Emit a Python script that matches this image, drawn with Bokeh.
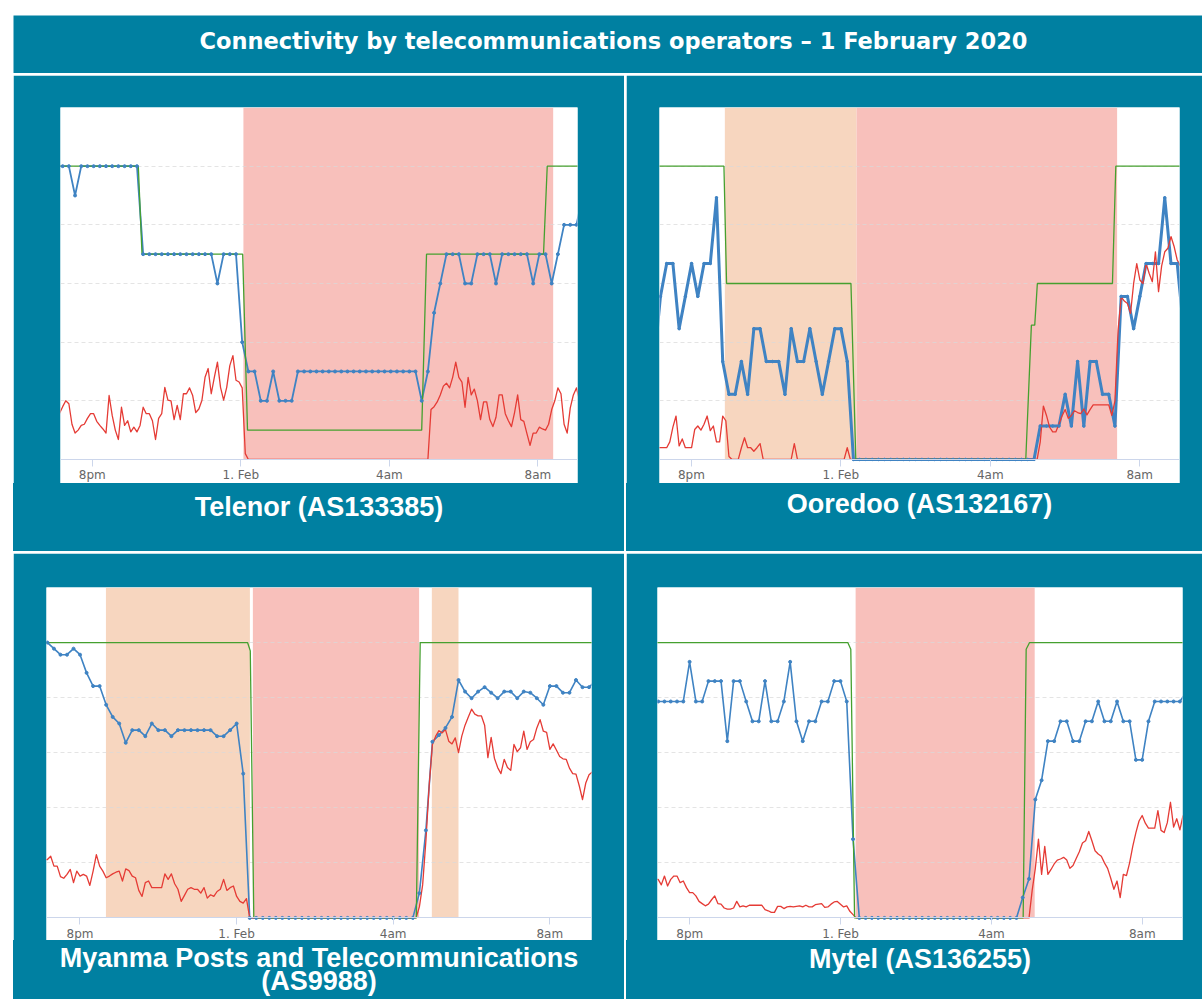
from bokeh.plotting import figure
from bokeh.layouts import column, row
from bokeh.models import Range1d, FixedTicker, BoxAnnotation, Label
from bokeh.embed import file_html
from bokeh.resources import INLINE

TITLE = "Connectivity by telecommunications operators \u2013 1 February 2020"

# x axis: hours relative to midnight, 1 February 2020
X_START, X_END = -4.855, 9.065
Y_START, Y_END = -0.41, 6.0
TICK_HOURS = [-4, 0, 4, 8]
TICK_LABELS = ["8pm", "1. Feb", "4am", "8am"]
GRID_LEVELS = [1, 2, 3, 4, 5]

# ---------------- Telenor ----------------
TELENOR_CAPTION = ["Telenor (AS133385)"]
TELENOR_BLUE_T0 = -4.963          # active probing, one value every 10 min
TELENOR_BLUE = [
    5.0, 5.0, 5.0, 4.5, 5.0, 5.0, 5.0, 5.0, 5.0, 5.0,
    5.0, 5.0, 5.0, 5.0, 3.5, 3.5, 3.5, 3.5, 3.5, 3.5,
    3.5, 3.5, 3.5, 3.5, 3.5, 3.5, 3.0, 3.5, 3.5, 3.5,
    2.0, 1.5, 1.5, 1.0, 1.0, 1.5, 1.0, 1.0, 1.0, 1.5,
    1.5, 1.5, 1.5, 1.5, 1.5, 1.5, 1.5, 1.5, 1.5, 1.5,
    1.5, 1.5, 1.5, 1.5, 1.5, 1.5, 1.5, 1.5, 1.5, 1.0,
    1.5, 2.5, 3.0, 3.5, 3.5, 3.5, 3.0, 3.0, 3.5, 3.5,
    3.5, 3.0, 3.5, 3.5, 3.5, 3.5, 3.5, 3.0, 3.5, 3.5,
    3.0, 3.5, 4.0, 4.0, 4.0, 4.5]
TELENOR_RED_T0 = -4.963           # darknet, one value every 5 min
TELENOR_RED = [
    0.75, 0.79, 0.9, 1.0, 0.95, 0.6, 0.45, 0.5, 0.58, 0.6,
    0.7, 0.78, 0.78, 0.65, 0.58, 0.52, 0.45, 1.09, 0.75, 0.5,
    0.34, 0.89, 0.58, 0.66, 0.47, 0.55, 0.47, 0.58, 0.89, 0.78,
    0.78, 0.66, 0.34, 0.7, 0.78, 1.23, 1.01, 1.0, 0.68, 0.92,
    0.68, 1.12, 1.12, 1.22, 1.09, 0.8, 0.86, 1.01, 1.4, 1.55,
    1.12, 1.4, 1.66, 1.23, 1.01, 1.23, 1.6, 1.77, 1.35, 1.32,
    1.22, 0.1, 0, 0, 0, 0, 0, 0, 0, 0,
    0, 0, 0, 0, 0, 0, 0, 0, 0, 0,
    0, 0, 0, 0, 0, 0, 0, 0, 0, 0,
    0, 0, 0, 0, 0, 0, 0, 0, 0, 0,
    0, 0, 0, 0, 0, 0, 0, 0, 0, 0,
    0, 0, 0, 0, 0, 0, 0, 0, 0, 0,
    0, 0.85, 0.9, 0.98, 1.1, 1.25, 1.3, 1.22, 1.4, 1.66,
    1.4, 1.32, 0.89, 1.4, 1.1, 1.2, 1.0, 0.68, 0.98, 0.98,
    0.68, 0.56, 0.72, 1.1, 1.1, 0.78, 0.66, 0.56, 0.8, 1.1,
    0.68, 0.65, 0.44, 0.24, 0.45, 0.45, 0.55, 0.52, 0.5, 0.6,
    0.85, 1.0, 1.22, 1.12, 0.6, 0.45, 0.88, 1.1, 1.22, 1.0]
TELENOR_GREEN_T = [-4.96, -2.76, -2.66, 0.05, 0.18, 4.87, 5.0, 8.15, 8.25, 9.2]
TELENOR_GREEN_V = [5.0, 5.0, 3.5, 3.5, 0.5, 0.5, 3.5, 3.5, 5.0, 5.0]
TELENOR_BAND_FROM = [0.07]
TELENOR_BAND_TO = [8.41]
TELENOR_BAND_KIND = ["outage"]

# ---------------- Ooredoo ----------------
OOREDOO_CAPTION = ["Ooredoo (AS132167)"]
OOREDOO_BLUE_T0 = -4.996
OOREDOO_BLUE = [
    1.67, 2.78, 3.34, 3.34, 2.23, 2.78, 3.34, 2.78, 3.34, 3.34,
    4.46, 1.67, 1.11, 1.11, 1.67, 1.11, 2.23, 2.23, 1.67, 1.67,
    1.67, 1.11, 2.23, 1.67, 1.67, 2.23, 1.67, 1.11, 1.67, 2.23,
    2.23, 1.67, 0, 0, 0, 0, 0, 0, 0, 0,
    0, 0, 0, 0, 0, 0, 0, 0, 0, 0,
    0, 0, 0, 0, 0, 0, 0, 0, 0, 0,
    0, 0, 0.57, 0.57, 0.57, 0.57, 1.11, 0.57, 1.67, 0.57,
    1.67, 1.67, 1.11, 1.11, 0.57, 2.78, 2.78, 2.23, 2.78, 3.34,
    3.34, 3.34, 4.46, 3.34, 3.34, 2.23]
OOREDOO_RED_T0 = -4.996
OOREDOO_RED = [
    0.2, 0.2, 0.2, 0.2, 0.2, 0.3, 0.55, 0.74, 0.23, 0.35,
    0.2, 0.2, 0.2, 0.51, 0.57, 0.5, 0.6, 0.74, 0.49, 0.57,
    0.3, 0.3, 0.74, 0.66, 0.05, 0, 0, 0, 0.2, 0.37,
    0.2, 0.2, 0.14, 0.2, 0.27, 0, 0, 0, 0, 0,
    0, 0, 0, 0, 0, 0.27, 0, 0, 0, 0,
    0, 0, 0, 0, 0, 0, 0, 0, 0, 0,
    0, 0, 0.2, 0, 0, 0, 0, 0, 0, 0,
    0, 0, 0, 0, 0, 0, 0, 0, 0, 0,
    0, 0, 0, 0, 0, 0, 0, 0, 0, 0,
    0, 0, 0, 0, 0, 0, 0, 0, 0, 0,
    0, 0, 0, 0, 0, 0, 0, 0, 0, 0,
    0, 0, 0, 0, 0, 0, 0, 0, 0, 0,
    0, 0, 0, 0, 0.3, 0.91, 0.75, 0.55, 0.47, 0.47,
    0.6, 0.74, 0.85, 0.7, 0.75, 0.83, 0.8, 0.78, 0.86, 0.76,
    0.85, 0.93, 0.93, 0.93, 0.93, 0.93, 0.93, 0.75, 1.0, 2.2,
    2.77, 2.7, 2.66, 2.49, 3.0, 3.34, 3.06, 3.0, 3.34, 3.17,
    3.03, 3.54, 2.86, 3.3, 3.54, 3.6, 3.8, 3.63, 3.4, 3.3]
OOREDOO_GREEN_T = [-5.0, -3.13, -3.06, 0.27, 0.40, 4.95, 5.10, 5.19, 5.26, 7.27, 7.36, 9.2]
OOREDOO_GREEN_V = [5.0, 5.0, 3.0, 3.0, 0.0, 0.0, 2.29, 2.29, 3.0, 3.0, 5.0, 5.0]
OOREDOO_BAND_FROM = [-3.106, 0.42]
OOREDOO_BAND_TO = [0.42, 7.395]
OOREDOO_BAND_KIND = ["partial", "outage"]

# ---------------- Myanma Posts and Telecommunications ----------------
MPT_CAPTION = ["Myanma Posts and Telecommunications", "(AS9988)"]
MPT_BLUE_T0 = -4.998
MPT_BLUE = [
    5.0, 5.0, 4.89, 4.78, 4.78, 4.89, 4.78, 4.45, 4.21, 4.21,
    3.87, 3.65, 3.53, 3.18, 3.41, 3.41, 3.3, 3.53, 3.41, 3.41,
    3.3, 3.41, 3.41, 3.41, 3.41, 3.41, 3.41, 3.3, 3.3, 3.41,
    3.53, 2.62, 0, 0, 0, 0, 0, 0, 0, 0,
    0, 0, 0, 0, 0, 0, 0, 0, 0, 0,
    0, 0, 0, 0, 0, 0, 0, 0, 0.45, 1.59,
    3.2, 3.32, 3.45, 3.65, 4.32, 4.11, 3.99, 4.11, 4.19, 4.09,
    3.99, 4.11, 4.11, 3.99, 4.11, 4.09, 3.99, 3.87, 4.21, 4.21,
    4.09, 4.09, 4.32, 4.19, 4.19, 4.3]
MPT_RED_T0 = -4.998
MPT_RED = [
    1.06, 1.06, 1.06, 1.12, 0.94, 0.94, 0.75, 0.72, 0.79, 0.88,
    0.64, 0.85, 0.76, 0.79, 0.76, 0.59, 0.85, 1.15, 0.94, 0.85,
    0.73, 0.76, 0.8, 0.83, 0.85, 0.67, 0.89, 0.86, 0.76, 0.73,
    0.5, 0.39, 0.64, 0.67, 0.55, 0.55, 0.55, 0.55, 0.8, 0.7,
    0.8, 0.62, 0.52, 0.3, 0.41, 0.52, 0.55, 0.52, 0.52, 0.45,
    0.55, 0.36, 0.42, 0.39, 0.48, 0.52, 0.7, 0.5, 0.55, 0.58,
    0.39, 0.3, 0.27, 0.35, 0, 0, 0, 0, 0, 0,
    0, 0, 0, 0, 0, 0, 0, 0, 0, 0,
    0, 0, 0, 0, 0, 0, 0, 0, 0, 0,
    0, 0, 0, 0, 0, 0, 0, 0, 0, 0,
    0, 0, 0, 0, 0, 0, 0, 0, 0, 0,
    0, 0, 0, 0, 0, 0, 0.2, 0.6, 1.4, 2.4,
    3.15, 3.3, 3.4, 3.36, 3.42, 3.21, 3.16, 3.27, 3.0, 3.3,
    3.5, 3.65, 3.79, 3.7, 3.67, 3.67, 3.5, 2.91, 3.28, 2.9,
    2.73, 2.62, 2.88, 2.73, 2.68, 3.15, 3.02, 3.09, 3.39, 3.06,
    3.2, 3.24, 3.45, 3.6, 3.39, 3.37, 3.06, 3.16, 3.05, 2.93,
    2.89, 2.88, 2.72, 2.62, 2.61, 2.4, 2.15, 2.45, 2.6, 2.65]
MPT_GREEN_T = [-5.0, 0.28, 0.35, 0.44, 4.59, 4.69, 9.2]
MPT_GREEN_V = [5.0, 5.0, 4.85, 0.0, 0.0, 5.0, 5.0]
MPT_BAND_FROM = [-3.337, 0.416, 4.987]
MPT_BAND_TO = [0.34, 4.662, 5.668]
MPT_BAND_KIND = ["partial", "outage", "partial"]

# ---------------- Mytel ----------------
MYTEL_CAPTION = ["Mytel (AS136255)"]
MYTEL_BLUE_T0 = -5.004
MYTEL_BLUE = [
    3.93, 3.93, 3.93, 3.93, 3.93, 3.93, 4.65, 3.93, 3.93, 4.3,
    4.3, 4.3, 3.21, 4.3, 4.3, 3.93, 3.57, 3.57, 4.3, 3.57,
    3.57, 3.93, 4.65, 3.57, 3.21, 3.57, 3.57, 3.93, 3.93, 4.3,
    4.3, 3.93, 1.43, 0, 0, 0, 0, 0, 0, 0,
    0, 0, 0, 0, 0, 0, 0, 0, 0, 0,
    0, 0, 0, 0, 0, 0, 0, 0, 0, 0.37,
    0.71, 2.15, 2.5, 3.21, 3.21, 3.57, 3.57, 3.21, 3.21, 3.57,
    3.57, 3.93, 3.57, 3.57, 3.93, 3.57, 3.57, 2.87, 2.87, 3.57,
    3.93, 3.93, 3.93, 3.93, 3.93, 4.1]
MYTEL_RED_T0 = -5.004
MYTEL_RED = [
    0.6, 0.7, 0.7, 0.6, 0.76, 0.58, 0.7, 0.76, 0.76, 0.64,
    0.67, 0.55, 0.46, 0.46, 0.4, 0.3, 0.26, 0.22, 0.25, 0.33,
    0.4, 0.26, 0.25, 0.18, 0.16, 0.16, 0.18, 0.3, 0.2, 0.22,
    0.2, 0.23, 0.23, 0.23, 0.23, 0.23, 0.15, 0.13, 0.1, 0.1,
    0.21, 0.21, 0.17, 0.2, 0.21, 0.2, 0.21, 0.22, 0.2, 0.23,
    0.2, 0.2, 0.24, 0.25, 0.26, 0.19, 0.2, 0.25, 0.29, 0.3,
    0.25, 0.2, 0.22, 0.12, 0.06, 0, 0, 0, 0, 0,
    0, 0, 0, 0, 0, 0, 0, 0, 0, 0,
    0, 0, 0, 0, 0, 0, 0, 0, 0, 0,
    0, 0, 0, 0, 0, 0, 0, 0, 0, 0,
    0, 0, 0, 0, 0, 0, 0, 0, 0, 0,
    0, 0, 0, 0, 0, 0, 0, 0, 0, 0,
    0, 0.5, 0.9, 1.43, 0.79, 1.3, 0.79, 0.88, 0.98, 1.05,
    1.07, 1.1, 1.05, 0.9, 0.95, 1.08, 1.2, 1.36, 1.4, 1.57,
    1.4, 1.22, 1.16, 1.12, 1.0, 0.9, 0.72, 0.52, 0.67, 0.37,
    0.79, 0.77, 1.0, 1.3, 1.55, 1.76, 1.86, 1.72, 1.63, 1.63,
    1.63, 1.95, 1.59, 1.55, 1.73, 2.1, 1.65, 1.8, 1.6, 1.86]
MYTEL_GREEN_T = [-5.0, 0.19, 0.27, 0.37, 4.84, 4.92, 5.01, 9.2]
MYTEL_GREEN_V = [5.0, 5.0, 4.88, 0.0, 0.0, 4.88, 5.0, 5.0]
MYTEL_BAND_FROM = [0.398]
MYTEL_BAND_TO = [5.146]
MYTEL_BAND_KIND = ["outage"]

# ---------------- styling ----------------
TEAL = "#0080a1"
PINK = "#f8c0bb"
PEACH = "#f7d6bf"
BLUE = "#3f83c3"
RED = "#e53b35"
GREEN = "#45a02f"
AXIS_C = "#ccd6eb"


def chart(w, frame_h, borders, blue_t0, blue, red_t0, red,
          green_t, green_v, band_from, band_to, band_kind, blue_width, dot):
    left, right, top = borders
    p = figure(width=w, height=top + frame_h,
               x_range=Range1d(X_START, X_END), y_range=Range1d(Y_START, Y_END),
               output_backend="svg", toolbar_location=None,
               min_border_left=left, min_border_right=right,
               min_border_top=top, min_border_bottom=0,
               background_fill_color="white", border_fill_color=TEAL,
               outline_line_color=None)
    ax = p.xaxis[0]
    ax.fixed_location = 0
    ax.ticker = FixedTicker(ticks=TICK_HOURS)
    ax.major_label_overrides = dict(zip(TICK_HOURS, TICK_LABELS))
    ax.axis_line_color = AXIS_C
    ax.major_tick_line_color = AXIS_C
    ax.major_tick_in = 0
    ax.major_tick_out = 7
    ax.minor_tick_line_color = None
    ax.major_label_text_color = "#666666"
    ax.major_label_text_font = "DejaVu Sans"
    ax.major_label_text_font_size = "12px"
    ax.major_label_standoff = 2
    p.yaxis.visible = False
    p.xgrid.visible = False
    p.ygrid.ticker = FixedTicker(ticks=GRID_LEVELS)
    p.ygrid.grid_line_color = "#d9d9d9"
    p.ygrid.grid_line_alpha = 0.7
    p.ygrid.grid_line_dash = "4 3"

    for a, b, k in zip(band_from, band_to, band_kind):
        p.add_layout(BoxAnnotation(left=a, right=b, bottom=0,
                                   fill_color=PINK if k == "outage" else PEACH,
                                   fill_alpha=1.0, line_color=None, level="image"))

    bx = [blue_t0 + i / 6 for i in range(len(blue))]
    rx = [red_t0 + j / 12 for j in range(len(red))]
    p.line(bx, blue, line_color=BLUE, line_width=blue_width, line_join="round")
    p.line(rx, red, line_color=RED, line_width=1.3, line_join="round")
    p.line(green_t, green_v, line_color=GREEN, line_width=1.3)
    p.scatter(bx, blue, size=dot, color=BLUE)
    return p


def caption(lines, baselines, w, h, left, right):
    # caption strip under a chart; its frame lines up with the chart frame
    c = figure(width=w, height=h, x_range=Range1d(X_START, X_END), y_range=Range1d(0, h),
               output_backend="svg", toolbar_location=None,
               min_border_left=left, min_border_right=right,
               min_border_top=0, min_border_bottom=0,
               x_axis_type=None, y_axis_type=None,
               background_fill_color=None, border_fill_color=None,
               outline_line_color=None, styles={"background-color": TEAL})
    for txt, off in zip(lines, baselines):
        c.add_layout(Label(x=(X_START + X_END) / 2, y=h - off, text=txt,
                           text_align="center", text_baseline="alphabetic",
                           text_color="white", text_font="Liberation Sans",
                           text_font_style="bold", text_font_size="27px"))
    return c


telenor = column(
    chart(611, 376, (47, 47, 32), TELENOR_BLUE_T0, TELENOR_BLUE, TELENOR_RED_T0, TELENOR_RED,
          TELENOR_GREEN_T, TELENOR_GREEN_V, TELENOR_BAND_FROM, TELENOR_BAND_TO,
          TELENOR_BAND_KIND, 1.8, 3),
    caption(TELENOR_CAPTION, [23.5], 611, 68, 47, 47), spacing=0)
ooredoo = column(
    chart(576, 376, (33, 23, 32), OOREDOO_BLUE_T0, OOREDOO_BLUE, OOREDOO_RED_T0, OOREDOO_RED,
          OOREDOO_GREEN_T, OOREDOO_GREEN_V, OOREDOO_BAND_FROM, OOREDOO_BAND_TO,
          OOREDOO_BAND_KIND, 3.0, 2.5),
    caption(OOREDOO_CAPTION, [20.5], 576, 68, 33, 23), spacing=0)
mpt = column(
    chart(611, 353, (33, 33, 34), MPT_BLUE_T0, MPT_BLUE, MPT_RED_T0, MPT_RED,
          MPT_GREEN_T, MPT_GREEN_V, MPT_BAND_FROM, MPT_BAND_TO, MPT_BAND_KIND, 1.6, 3),
    caption(MPT_CAPTION, [17.5, 40.5], 611, 59, 33, 33), spacing=0)
mytel = column(
    chart(576, 353, (31, 20, 34), MYTEL_BLUE_T0, MYTEL_BLUE, MYTEL_RED_T0, MYTEL_RED,
          MYTEL_GREEN_T, MYTEL_GREEN_V, MYTEL_BAND_FROM, MYTEL_BAND_TO, MYTEL_BAND_KIND, 1.6, 3),
    caption(MYTEL_CAPTION, [18.5], 576, 59, 31, 20), spacing=0)

head = figure(width=1189, height=58, x_range=Range1d(0, 1), y_range=Range1d(0, 1),
              output_backend="svg", toolbar_location=None, min_border=0,
              x_axis_type=None, y_axis_type=None,
              background_fill_color=TEAL, border_fill_color=TEAL, outline_line_color=None)
head.add_layout(Label(x=600 / 1189, y=32.7 / 58, text=TITLE, text_align="center",
                      text_baseline="alphabetic", text_color="white",
                      text_font="DejaVu Sans", text_font_style="bold",
                      text_font_size="22.5px"))

layout = column(head,
                row(telenor, ooredoo, spacing=2),
                row(mpt, mytel, spacing=2),
                spacing=2, margin=(15, 0, 0, 13))

open("out.html", "w").write(file_html(layout, INLINE))
